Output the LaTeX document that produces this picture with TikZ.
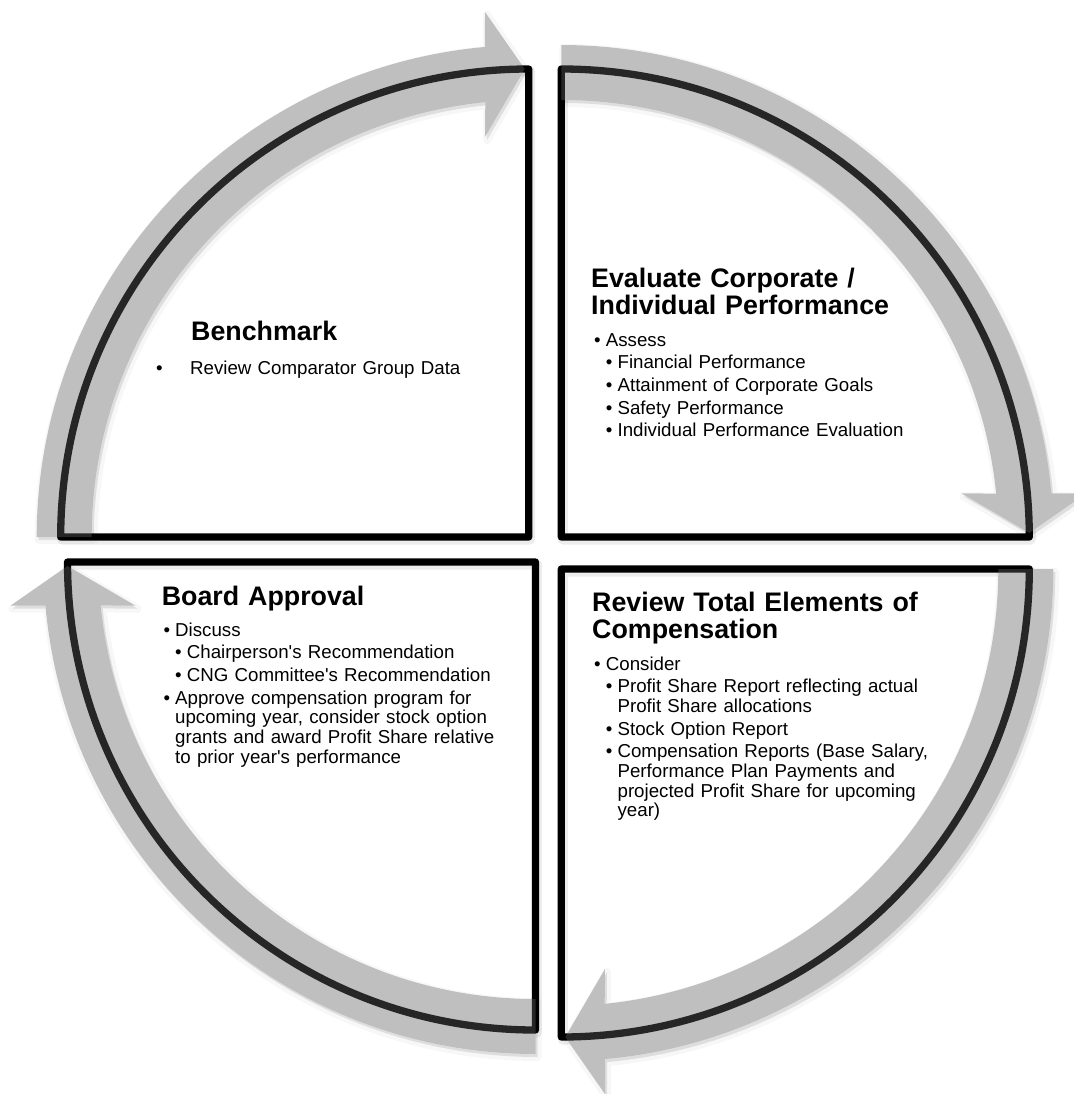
\documentclass[tikz,border=0pt]{standalone}
\usepackage{fontspec}
\setmainfont{Liberation Sans}
\definecolor{BandGray}{RGB}{95,95,95}
\tikzset{
    quadrant/.style = {draw=black, line width=7.3bp, line join=round},
    quadshade/.style = {draw=black, draw opacity=0.07, line width=10bp, line join=round},
    band/.style = {fill=BandGray, fill opacity=0.4},
    bandbase/.style = {fill=white},
    bandshade/.style = {fill=black, fill opacity=0.10, draw=black, draw opacity=0.03,
        line width=8bp, line join=round},
    heading/.style = {anchor=base west, inner sep=0pt, text width=480bp, align=left,
        font=\fontsize{26.8bp}{27.5bp}\selectfont\bfseries},
    bullets/.style = {anchor=base west, inner sep=0pt, text width=440bp, align=left,
        font=\fontsize{18.7bp}{19.7bp}\selectfont}
}
\newcommand{\lvlone}[1]{\hangindent=11.7bp\hangafter=1\makebox[11.7bp][l]{\textbullet}#1\par\vspace{3bp}}
\newcommand{\lvltwo}[1]{\hangindent=23.4bp\hangafter=1\makebox[11.7bp]{}\makebox[11.7bp][l]{\textbullet}#1\par\vspace{3bp}}
% one quarter of the cycle, drawn for the top left and rotated for the others
\def\cyclearrow{%
    (180:492) arc[start angle=180, end angle=95.1, radius=492] -- (-43.7,525) -- (-4,468)
    -- (-43.7,400) -- (95.7:437) arc[start angle=95.7, end angle=180, radius=437] -- cycle
}
\def\quarter{%
    (0,0) -- (180:468) arc[start angle=180, end angle=90, radius=468] -- cycle
}

\begin{document}
\begin{tikzpicture}[x=1bp, y=1bp]
    \useasboundingbox (0,0) rectangle (1074,-1094);
    % shadows
    \foreach \cx/\cy/\rot in {528.7/537/0, 561.3/537/-90, 561.3/569/180, 535.5/562/90}{
        \begin{scope}[shift={(\cx+2,-\cy-3)}, rotate=\rot]
            \filldraw[bandshade] \cyclearrow;
        \end{scope}
        \begin{scope}[shift={(\cx+1.5,-\cy-2.5)}, rotate=\rot]
            \draw[quadshade] \quarter;
        \end{scope}
    }
    \foreach \cx/\cy/\rot in {528.7/537/0, 561.3/537/-90, 561.3/569/180, 535.5/562/90}{
        \begin{scope}[shift={(\cx,-\cy)}, rotate=\rot]
            \fill[bandbase] \cyclearrow;
        \end{scope}
    }
    \foreach \cx/\cy/\rot in {528.7/537/0, 561.3/537/-90, 561.3/569/180, 535.5/562/90}{
        \begin{scope}[shift={(\cx,-\cy)}, rotate=\rot]
            \draw[quadrant] \quarter;
        \end{scope}
    }
    \foreach \cx/\cy/\rot in {528.7/537/0, 561.3/537/-90, 561.3/569/180, 535.5/562/90}{
        \begin{scope}[shift={(\cx,-\cy)}, rotate=\rot]
            \fill[band] \cyclearrow;
        \end{scope}
    }

    \node[heading] (bench-title) at (191,-340) {Benchmark};
    \node[bullets] (bench-list) at (156,-374) {\makebox[34bp][l]{\textbullet}Review Comparator Group Data};

    \node[heading] (evalp-title) at (591,-287) {Evaluate Corporate /\newline Individual Performance};
    \node[bullets] (evalp-list) at (594,-346) {%
        \lvlone{Assess}
        \lvltwo{Financial Performance}
        \lvltwo{Attainment of Corporate Goals}
        \lvltwo{Safety Performance}
        \lvltwo{Individual Performance Evaluation}};

    \node[heading] (board-title) at (161.6,-605) {Board Approval};
    \node[bullets] (board-list) at (163.3,-636) {%
        \lvlone{Discuss}
        \lvltwo{Chairperson\textquotesingle s Recommendation}
        \lvltwo{CNG Committee\textquotesingle s Recommendation}
        \lvlone{Approve compensation program for\newline upcoming year, consider stock option\newline
            grants and award Profit Share relative\newline to prior year\textquotesingle s performance}};

    \node[heading] (review-title) at (592,-611) {Review Total Elements of\newline Compensation};
    \node[bullets] (review-list) at (594,-670) {%
        \lvlone{Consider}
        \lvltwo{Profit Share Report reflecting actual\newline Profit Share allocations}
        \lvltwo{Stock Option Report}
        \lvltwo{Compensation Reports (Base Salary,\newline Performance Plan Payments and\newline
            projected Profit Share for upcoming\newline year)}};
\end{tikzpicture}
\end{document}
